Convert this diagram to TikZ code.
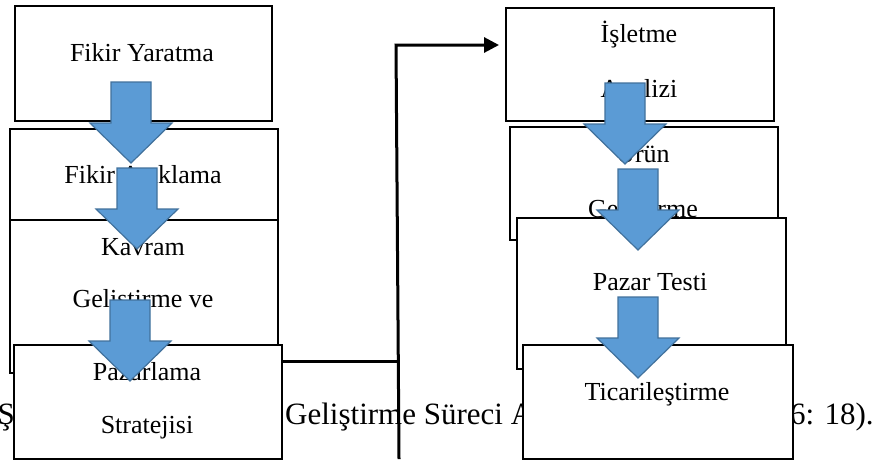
\documentclass[tikz,border=0pt]{standalone}
\usepackage{fontspec}
\setmainfont{Liberation Serif}
\usetikzlibrary{arrows.meta}
\definecolor{arrowblue}{RGB}{91,155,213}
\definecolor{arrowedge}{RGB}{65,113,156}
\tikzset{
  stage/.style={draw=black, line width=2pt, fill=white, inner sep=0pt, anchor=north west},
  stagetext/.style={anchor=base, inner sep=0pt, font=\fontsize{26}{31}\selectfont},
  captiontext/.style={anchor=base west, inner sep=0pt, font=\fontsize{31}{37}\selectfont},
  blockarrow/.style={fill=arrowblue, draw=arrowedge, line width=1.2pt, line join=miter},
  link/.style={line width=3pt}
}
% block arrow pointing down: #1 = centre x, #2 = top y
\newcommand{\stagearrow}[2]{%
  \filldraw[blockarrow] ({#1-20},{#2}) -- ({#1+20},{#2}) -- ({#1+20},{#2+41})
    -- ({#1+41},{#2+41}) -- ({#1},{#2+81}) -- ({#1-41},{#2+41}) -- ({#1-20},{#2+41}) -- cycle;}
\begin{document}
\begin{tikzpicture}[x=1pt,y=-1pt]
\useasboundingbox (0,0) rectangle (874,459);

% caption behind the boxes
\node[captiontext, anchor=base east] (capstart) at (15,424) {Ş};
\node[captiontext] (capmid) at (285,424) {Geliştirme Süreci A};
\node[captiontext] (capend) at (790,424) {6: 18).};

% left column
\node[stage, minimum width=257pt, minimum height=115pt] (ideaGen) at (14,5) {};
\node[stagetext] (ideaGenA) at (142,61) {Fikir Yaratma};
\node[stage, minimum width=268pt, minimum height=96pt] (ideaScreen) at (9,128) {};
\node[stagetext] (ideaScreenA) at (143,183) {Fikir Ayıklama};
\node[stage, minimum width=268pt, minimum height=153pt] (concept) at (9,219) {};
\node[stagetext] (conceptA) at (143,255) {Kavram};
\node[stagetext] (conceptB) at (143,307) {Geliştirme ve};
\node[stage, minimum width=268pt, minimum height=114pt] (strategy) at (13,344) {};
\node[stagetext] (strategyA) at (147,380) {Pazarlama};
\node[stagetext] (strategyB) at (147,433) {Stratejisi};

% right column
\node[stage, minimum width=268pt, minimum height=113pt] (business) at (505,7) {};
\node[stagetext] (businessA) at (639,42) {İşletme};
\node[stagetext] (businessB) at (639,97) {Analizi};
\node[stage, minimum width=268pt, minimum height=113pt] (product) at (509,126) {};
\node[stagetext] (productA) at (643,162) {Ürün};
\node[stagetext] (productB) at (643,217) {Geliştirme};
\node[stage, minimum width=269pt, minimum height=151pt] (testing) at (516,217) {};
\node[stagetext] (testingA) at (650,290) {Pazar Testi};
\node[stage, minimum width=270pt, minimum height=114pt] (launch) at (522,344) {};
\node[stagetext] (launchA) at (657,400) {Ticarileştirme};

% blue arrows
\foreach \x/\y in {131/82,137/168,130/300,625/83,638/169,638/297}
  \stagearrow{\x}{\y};

% connector between the columns
\coordinate (turn) at (397,361);
\coordinate (rise) at (396,45);
\coordinate (foot) at (399,459);
\draw[link] (strategy.east |- turn) -- (turn);
\draw[link, -{Triangle[length=15pt,width=15pt]}] (foot) -- (rise) -- ([xshift=-6pt]business.west |- rise);
\end{tikzpicture}
\end{document}
